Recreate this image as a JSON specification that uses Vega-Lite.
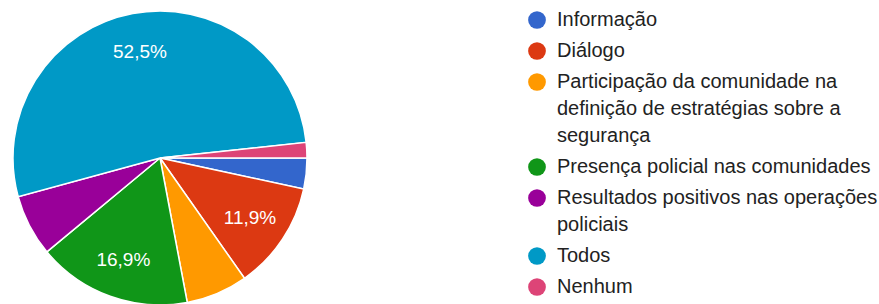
{
  "$schema": "https://vega.github.io/schema/vega-lite/v6.json",
  "width": 320,
  "height": 298,
  "padding": {"left": 0, "top": 8, "right": 0, "bottom": 0},
  "autosize": {"type": "pad"},
  "background": "white",
  "config": {"view": {"stroke": null}, "style": {"guide-label": {"lineHeight": 27}}},
  "data": {
    "values": [
      {"resposta": "Informação", "n": 2, "ordem": 1, "rotulo": ""},
      {"resposta": "Diálogo", "n": 7, "ordem": 2, "rotulo": "11,9%"},
      {"resposta": "Participação da comunidade na definição de estratégias sobre a segurança", "n": 4, "ordem": 3, "rotulo": ""},
      {"resposta": "Presença policial nas comunidades", "n": 10, "ordem": 4, "rotulo": "16,9%"},
      {"resposta": "Resultados positivos nas operações policiais", "n": 4, "ordem": 5, "rotulo": ""},
      {"resposta": "Todos", "n": 31, "ordem": 6, "rotulo": "52,5%"},
      {"resposta": "Nenhum", "n": 1, "ordem": 7, "rotulo": ""}
    ]
  },
  "encoding": {
    "theta": {"field": "n", "type": "quantitative", "stack": true, "scale": {"range": [1.5707963, 7.8539816]}},
    "order": {"field": "ordem", "type": "quantitative"}
  },
  "layer": [
    {
      "mark": {"type": "arc", "outerRadius": 147, "stroke": "white", "strokeWidth": 1.5},
      "encoding": {
        "color": {
          "field": "resposta",
          "type": "nominal",
          "scale": {
            "domain": ["Informação", "Diálogo", "Participação da comunidade na definição de estratégias sobre a segurança", "Presença policial nas comunidades", "Resultados positivos nas operações policiais", "Todos", "Nenhum"],
            "range": ["#3366cc", "#dc3912", "#ff9900", "#109618", "#990099", "#0099c6", "#dd4477"]
          },
          "legend": {
            "orient": "none",
            "legendX": 527,
            "legendY": 1,
            "title": null,
            "padding": 0,
            "symbolType": "circle",
            "symbolSize": 314,
            "symbolStrokeWidth": 0,
            "labelFont": "Liberation Sans",
            "labelFontSize": 20,
            "labelColor": "#222222",
            "labelOffset": 10,
            "labelLimit": 400,
            "rowPadding": 11,
            "labelExpr": "datum.label == 'Participação da comunidade na definição de estratégias sobre a segurança' ? ['Participação da comunidade na', 'definição de estratégias sobre a', 'segurança'] : datum.label == 'Resultados positivos nas operações policiais' ? ['Resultados positivos nas operações', 'policiais'] : datum.label",
            "encode": {"labels": {"lineHeight": {"value": 27}}}
          }
        }
      }
    },
    {
      "mark": {"type": "text", "radius": 108, "fill": "white", "fontSize": 19, "font": "Liberation Sans"},
      "encoding": {"text": {"field": "rotulo", "type": "nominal"}}
    }
  ]
}
